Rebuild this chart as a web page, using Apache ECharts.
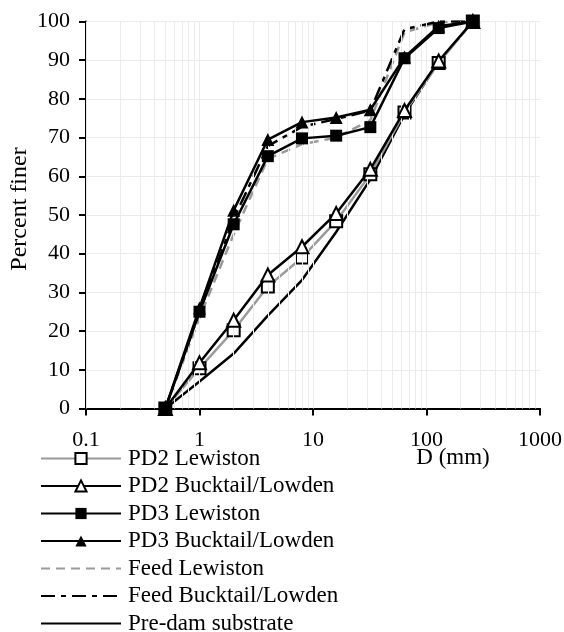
<!DOCTYPE html>
<html>
<head>
<meta charset="utf-8">
<script src="https://cdn.jsdelivr.net/npm/echarts@6/dist/echarts.min.js"></script>
<style>
  html, body { margin: 0; padding: 0; background: #fff; }
  #chart { width: 564px; height: 632px; }
</style>
</head>
<body>
<div id="chart"></div>
<script>
// sieve sizes (mm)
var sizes = [0.5, 1, 2, 4, 8, 16, 32, 64, 128, 256];

var pd2Lewiston   = [0, 10.4, 20.2, 31.5, 39.0, 48.4, 60.5, 76.5, 89.3, 100];
var pd2Bucktail   = [0, 11.8, 22.8, 34.5, 41.8, 50.4, 61.8, 77.0, 89.8, 100];
var pd3Lewiston   = [0, 25.0, 47.6, 65.2, 69.8, 70.5, 72.7, 90.5, 98.3, 100];
var pd3Bucktail   = [0, 26.0, 51.2, 69.5, 74.0, 75.2, 77.2, 90.8, 98.8, 100];
var feedLewiston  = [0, 23.5, 45.0, 64.5, 68.3, 70.0, 74.5, 97.2, 99.8, 100];
var feedBucktail  = [0, 25.0, 49.0, 67.8, 72.8, 74.8, 77.0, 98.0, 100, 100];
var preDam        = [0, 7.0, 14.2, 24.0, 33.2, 45.6, 59.2, 76.0, 89.6, 100];

var yTicks = { min: 0, max: 100, step: 10 };
var xTicks = { min: 0.1, max: 1000 };

var serif = 'Liberation Serif';

function pairs(vals) {
  return sizes.map(function (s, i) { return [s, vals[i]]; });
}

// minor log gridlines 0.1 .. 900
var gridVals = [];
for (var d = 0.1; d < 1000; d *= 10) {
  for (var k = 1; k <= 9; k++) gridVals.push({ xAxis: +(d * k).toPrecision(3) });
}

var noMark = { opacity: 0 }; // hides the legend symbol on plain lines

var myChart = echarts.init(document.getElementById('chart'));

var option = {
  animation: false,
  grid: {
    left: 86,
    right: 24,
    top: 21.5,
    bottom: 223.5,
    outerBoundsMode: 'none'
  },
  legend: {
    orient: 'vertical',
    left: 40,
    top: 447,
    height: 200,
    padding: 0,
    itemWidth: 80,
    itemHeight: 14,
    itemGap: 4.5,
    textStyle: {
      fontFamily: serif,
      fontSize: 23,
      color: '#000',
      padding: [0, 0, 0, 2]
    },
    data: [
      'PD2 Lewiston', 'PD2 Bucktail/Lowden', 'PD3 Lewiston', 'PD3 Bucktail/Lowden',
      { name: 'Feed Lewiston', itemStyle: noMark },
      { name: 'Feed Bucktail/Lowden', itemStyle: noMark },
      { name: 'Pre-dam substrate', itemStyle: noMark }
    ]
  },
  xAxis: {
    type: 'log',
    logBase: 10,
    min: xTicks.min,
    max: xTicks.max,
    name: 'D (mm)',
    nameLocation: 'end',
    nameGap: -87,
    nameMoveOverlap: false,
    nameTextStyle: {
      fontFamily: serif,
      fontSize: 23,
      color: '#000',
      align: 'center',
      verticalAlign: 'top',
      padding: [38, 0, 0, 0]
    },
    axisLine: { lineStyle: { color: '#000', width: 2 } },
    axisTick: { show: true, inside: false, length: 7, lineStyle: { color: '#000', width: 2 } },
    axisLabel: {
      fontFamily: serif,
      fontSize: 22,
      color: '#000',
      margin: 21,
      formatter: function (v) { return String(+v.toPrecision(3)); }
    },
    splitLine: { show: false },
    minorTick: { show: false },
    minorSplitLine: { show: false }
  },
  yAxis: {
    type: 'value',
    min: yTicks.min,
    max: yTicks.max,
    interval: yTicks.step,
    name: 'Percent finer',
    nameLocation: 'middle',
    nameGap: 66,
    nameMoveOverlap: false,
    nameTextStyle: {
      fontFamily: serif,
      fontSize: 24,
      color: '#000',
      verticalAlign: 'middle',
      padding: [0, 0, 0, 12]
    },
    axisLine: { show: true, lineStyle: { color: '#000', width: 2 } },
    axisTick: { show: true, inside: false, length: 7, lineStyle: { color: '#000', width: 2 } },
    axisLabel: {
      fontFamily: serif,
      fontSize: 22,
      color: '#000',
      margin: 16
    },
    splitLine: { show: true, lineStyle: { color: '#ebebeb', width: 1 } }
  },
  series: [
    {
      name: 'grid',
      type: 'line',
      z: 1,
      silent: true,
      symbol: 'none',
      lineStyle: { opacity: 0 },
      data: [[sizes[0], 0]],
      markLine: {
        silent: true,
        symbol: ['none', 'none'],
        label: { show: false },
        lineStyle: { color: '#ebebeb', width: 1, type: 'solid' },
        data: gridVals
      }
    },
    {
      name: 'Pre-dam substrate',
      type: 'line',
      z: 2,
      symbol: 'none',
      lineStyle: { color: '#000', width: 2.5 },
      itemStyle: { color: '#000', opacity: 0 },
      data: pairs(preDam)
    },
    {
      name: 'Feed Lewiston',
      type: 'line',
      z: 3,
      symbol: 'none',
      lineStyle: { color: '#9a9a9a', width: 2.5, type: [9, 6] },
      itemStyle: { color: '#9a9a9a', opacity: 0 },
      data: pairs(feedLewiston)
    },
    {
      name: 'Feed Bucktail/Lowden',
      type: 'line',
      z: 3,
      symbol: 'none',
      lineStyle: { color: '#000', width: 2.5, type: [14, 6, 5, 6] },
      itemStyle: { color: '#000', opacity: 0 },
      data: pairs(feedBucktail)
    },
    {
      name: 'PD2 Lewiston',
      type: 'line',
      z: 4,
      symbol: 'rect',
      symbolSize: 12,
      lineStyle: { color: '#9a9a9a', width: 2.5 },
      itemStyle: { color: '#fff', borderColor: '#000', borderWidth: 2 },
      data: pairs(pd2Lewiston)
    },
    {
      name: 'PD2 Bucktail/Lowden',
      type: 'line',
      z: 5,
      symbol: 'triangle',
      symbolSize: 13,
      lineStyle: { color: '#000', width: 2.5 },
      itemStyle: { color: '#fff', borderColor: '#000', borderWidth: 2 },
      data: pairs(pd2Bucktail)
    },
    {
      name: 'PD3 Lewiston',
      type: 'line',
      z: 6,
      symbol: 'rect',
      symbolSize: 12,
      lineStyle: { color: '#000', width: 2.5 },
      itemStyle: { color: '#000' },
      data: pairs(pd3Lewiston)
    },
    {
      name: 'PD3 Bucktail/Lowden',
      type: 'line',
      z: 6,
      symbol: 'triangle',
      symbolSize: 13,
      lineStyle: { color: '#000', width: 2.5 },
      itemStyle: { color: '#000' },
      data: pairs(pd3Bucktail)
    }
  ]
};

myChart.setOption(option);
</script>
</body>
</html>
